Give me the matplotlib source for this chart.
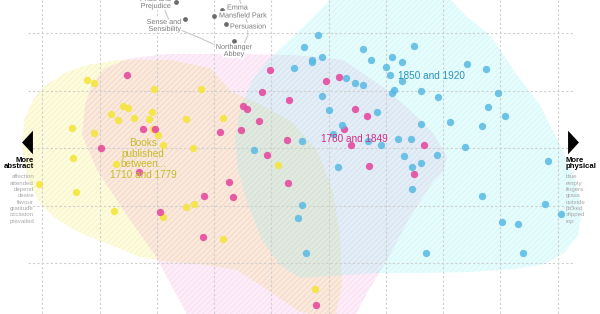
import matplotlib.pyplot as plt
import matplotlib.patheffects as pe
from matplotlib.patches import Polygon

plt.rcParams["font.family"] = ["Liberation Sans", "DejaVu Sans"]

# positions on the word-embedding map (screen-like units, y grows downward)
yellow_x = [87, 94, 154, 201, 123, 128, 111, 118, 134, 149, 152, 186, 223, 72, 94,
            153, 158, 163, 193, 73, 116, 278, 39, 76, 114, 163, 186, 194, 223, 315]
yellow_y = [80, 83, 89, 89, 106, 108, 114, 120, 118, 119, 112, 119, 118, 128, 133,
            129, 135, 145, 148, 158, 164, 165, 184, 192, 211, 217, 207, 204, 239, 289]

pink_x = [127, 270, 262, 289, 243, 247, 259, 241, 220, 143, 155, 101, 267, 287, 139,
          229, 204, 233, 288, 160, 203, 326, 339, 355, 367, 344, 351, 424, 369, 414, 316]
pink_y = [75, 70, 92, 100, 106, 109, 121, 130, 132, 129, 129, 148, 155, 140, 172,
          182, 196, 197, 183, 212, 237, 81, 77, 109, 116, 129, 145, 145, 166, 174, 305]

blue_x = [318, 304, 312, 312, 322, 363, 371, 414, 392, 402, 386, 390, 346, 355, 363,
          402, 394, 392, 421, 322, 438, 467, 486, 498, 488, 505, 482, 450, 377, 329,
          342, 333, 302, 368, 381, 398, 411, 421, 465, 404, 437, 548, 294, 254, 338,
          412, 421, 412, 482, 545, 561, 502, 518, 523, 426, 306, 302, 298]
blue_y = [35, 47, 60, 62, 57, 49, 60, 46, 57, 62, 67, 75, 78, 83, 85,
          81, 90, 93, 91, 96, 97, 64, 69, 93, 107, 116, 126, 122, 112, 110,
          125, 134, 141, 141, 145, 139, 139, 124, 147, 156, 155, 161, 68, 150, 167,
          167, 163, 189, 196, 204, 214, 222, 224, 253, 253, 253, 205, 218]

# outlines of each era's region
yellow_area_x = [22, 24, 33, 43, 67, 87, 120, 170, 210, 232, 262, 292, 318, 333, 340,
                 342, 335, 300, 260, 237, 200, 170, 140, 113, 80, 55, 40, 28]
yellow_area_y = [150, 120, 100, 87, 72, 65, 60, 60, 68, 92, 105, 122, 152, 192, 235,
                 285, 318, 312, 285, 270, 264, 262, 257, 246, 233, 218, 203, 180]

pink_area_x = [82, 85, 92, 104, 127, 167, 230, 290, 320, 343, 383, 410, 433, 447, 443,
               433, 410, 387, 367, 353, 190, 170, 155, 130, 97]
pink_area_y = [135, 105, 84, 69, 59, 54, 54, 55, 57, 60, 87, 110, 133, 157, 172,
               182, 217, 260, 293, 320, 320, 283, 255, 220, 170]

blue_area_x = [268, 285, 305, 322, 335, 445, 467, 490, 517, 540, 560, 575, 582, 578,
               565, 545, 515, 470, 420, 377, 330, 300, 280, 262, 248, 238, 235, 240, 252]
blue_area_y = [60, 44, 25, 8, -6, -6, 17, 35, 75, 105, 145, 180, 210, 235,
               252, 264, 269, 272, 273, 273, 276, 278, 265, 240, 205, 170, 140, 110, 80]

# Austen novels
austen_titles = ["Pride and\nPrejudice", "Sense and\nSensibility", "Emma",
                 "Mansfield Park", "Persuasion", "Northanger\nAbbey"]
austen_x = [176, 185, 222, 214, 226, 234]
austen_y = [2, 19, 10, 16, 24, 41]
austen_curve_x = [160, 164, 168, 174, 183, 200, 213, 230, 243, 248, 247, 243, 238]
austen_curve_y = [-5, 8, 18, 26, 31, 38, 44, 49, 46, 35, 22, 10, -5]

grid_x = [42, 100, 157, 214, 271, 329, 386, 443, 500, 558]
grid_y = [33, 91, 148, 206, 263]

abstract_words = ["affection", "attended", "depend", "desire", "favour",
                  "gratitude", "occasion", "prevailed"]
physical_words = ["blue", "empty", "fingers", "grass", "outside", "picked",
                  "slipped", "top"]

fig = plt.figure(figsize=(6, 3.14), dpi=100)
ax = fig.add_axes([0, 0, 1, 1])
ax.set_xlim(0, 600)
ax.set_ylim(314, 0)
ax.axis("off")

plt.rcParams["hatch.linewidth"] = 0.5
areas = [
    (yellow_area_x, yellow_area_y, "#f4f03c", 0.17, "#ebe6a0"),
    (pink_area_x, pink_area_y, "#f05cc0", 0.11, "#f2c6e6"),
    (blue_area_x, blue_area_y, "#44eef2", 0.13, "#bdf2f4"),
]
for xs, ys, fc, alpha, hc in areas:
    ax.add_patch(Polygon(list(zip(xs, ys)), closed=True, facecolor=fc,
                         edgecolor="none", alpha=alpha, zorder=1))
    ax.add_patch(Polygon(list(zip(xs, ys)), closed=True, facecolor="none",
                         edgecolor=hc, lw=0, hatch="//////", alpha=0.5, zorder=1))

for gx in grid_x:
    ax.plot([gx, gx], [0, 314], color="#cfcfcf", lw=0.8, ls=(0, (2, 2)), zorder=2)
for gy in grid_y:
    ax.plot([28, 573], [gy, gy], color="#cfcfcf", lw=0.8, ls=(0, (2, 2)), zorder=2)

ax.scatter(yellow_x, yellow_y, s=28, color="#f4e53e", alpha=0.9, lw=0, zorder=3)
ax.scatter(pink_x, pink_y, s=28, color="#e64b9f", alpha=0.9, lw=0, zorder=3)
ax.scatter(blue_x, blue_y, s=28, color="#58b9e3", alpha=0.85, lw=0, zorder=3)

# Austen cluster
ax.plot(austen_curve_x, austen_curve_y, color="#c9c9c9", lw=0.8, zorder=3)
ax.scatter(austen_x, austen_y, s=12, color="#6b6b6b", lw=0, zorder=4)
halo = [pe.withStroke(linewidth=2.5, foreground="white")]
label_pos = {
    "Pride and\nPrejudice": (-5, 1, "right", "center"),
    "Sense and\nSensibility": (-4, 7, "right", "center"),
    "Emma": (5, -2, "left", "center"),
    "Mansfield Park": (5, 0, "left", "center"),
    "Persuasion": (4, 3, "left", "center"),
    "Northanger\nAbbey": (0, 10, "center", "center"),
}
for t, x, y in zip(austen_titles, austen_x, austen_y):
    dx, dy, ha, va = label_pos[t]
    ax.text(x + dx, y + dy, t, fontsize=5.2, color="#7a7a7a", ha=ha, va=va,
            multialignment="center" if ha == "center" else ha,
            linespacing=1.0, path_effects=halo, zorder=5)

# era labels
ax.text(143, 159, "Books\npublished\nbetween...\n1710 and 1779", fontsize=7.2,
        color="#c6bb2c", ha="center", va="center", linespacing=1.05, zorder=5)
ax.text(354, 139, "1780 and 1849", fontsize=7.2, color="#cf2f86",
        ha="center", va="center", zorder=5)
ax.text(431, 76, "1850 and 1920", fontsize=7.2, color="#2a93bd",
        ha="center", va="center", zorder=5)

# side arrows and word lists
ax.plot([27], [142], marker=[(-0.46, 0), (0.46, 1), (0.46, -1)], ms=17,
        color="black", mew=0, zorder=5)
ax.plot([572.5], [142], marker=[(0.46, 0), (-0.46, 1), (-0.46, -1)], ms=17,
        color="black", mew=0, zorder=5)
ax.text(34, 163.5, "More\nabstract", fontsize=5.6, fontweight="bold", ha="right",
        va="center", linespacing=0.95, zorder=5)
ax.text(566, 163.5, "More\nphysical", fontsize=5.6, fontweight="bold", ha="left",
        va="center", linespacing=0.95, zorder=5)
for i, w in enumerate(abstract_words):
    ax.text(34, 177 + i * 6.3, w, fontsize=4.4, color="#a8a8a8", ha="right",
            va="center", zorder=5)
for i, w in enumerate(physical_words):
    ax.text(566, 177 + i * 6.3, w, fontsize=4.4, color="#a8a8a8", ha="left",
            va="center", zorder=5)

fig.savefig("out.png", dpi=100)
